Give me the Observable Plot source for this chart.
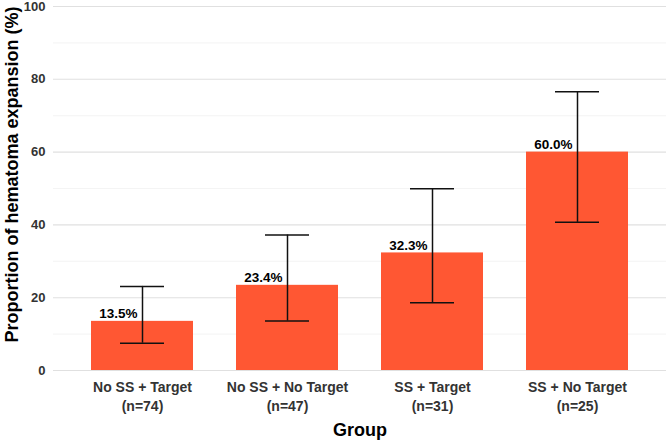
<!DOCTYPE html>
<html>
<head>
<meta charset="utf-8">
<script src="https://cdn.jsdelivr.net/npm/d3@7"></script>
<script src="https://cdn.jsdelivr.net/npm/@observablehq/plot@0.6"></script>
<style>
  html, body { margin: 0; padding: 0; background: #ffffff; }
  #chart svg { display: block; }
</style>
</head>
<body>
<div id="chart"></div>
<script>
// Hematoma expansion by group, with 95% confidence intervals
const groups = ["No SS + Target", "No SS + No Target", "SS + Target", "SS + No Target"];
const counts = [74, 47, 31, 25];
const pct = [13.5, 23.4, 32.3, 60.0];
const ciLow = [7.5, 13.6, 18.6, 40.7];
const ciHigh = [23.1, 37.2, 49.9, 76.6];
const yTicks = [0, 20, 40, 60, 80, 100];
const yMinor = [10, 30, 50, 70, 90];

const data = groups.map((g, i) => ({group: g, n: counts[i], pct: pct[i], lo: ciLow[i], hi: ciHigh[i]}));
const nByGroup = new Map(data.map(d => [d.group, d.n]));

const font = "'Liberation Sans', Arial, Helvetica, sans-serif";

const chart = Plot.plot({
  width: 667,
  height: 442,
  marginTop: 6,
  marginBottom: 72,
  marginLeft: 53,
  marginRight: 1,
  style: {fontFamily: font, background: "#ffffff"},
  x: {domain: groups, paddingInner: 0.3, paddingOuter: 0.25},
  y: {domain: [0, 100]},
  marks: [
    Plot.gridY(yMinor, {stroke: "#efefef", strokeOpacity: 1, strokeWidth: 0.7}),
    Plot.gridY(yTicks, {stroke: "#e0e0e0", strokeOpacity: 1, strokeWidth: 1.1}),
    Plot.barY(data, {x: "group", y: "pct", fill: "#FF5733"}),
    Plot.ruleX(data, {x: "group", y1: "lo", y2: "hi", stroke: "#111111", strokeWidth: 1.5}),
    Plot.tickY(data, {x: "group", y: "lo", stroke: "#111111", strokeWidth: 1.5, insetLeft: 29, insetRight: 29}),
    Plot.tickY(data, {x: "group", y: "hi", stroke: "#111111", strokeWidth: 1.5, insetLeft: 29, insetRight: 29}),
    Plot.text(data, {
      x: "group", y: "pct",
      text: d => d.pct.toFixed(1) + "%",
      textAnchor: "end", lineAnchor: "bottom", dx: -5, dy: -3,
      fontSize: 13.5, fontWeight: "bold", fill: "#000000"
    }),
    Plot.axisY({
      ticks: yTicks, tickSize: 0, tickPadding: 8, label: null,
      fontSize: 13, fontWeight: "bold", color: "#333333"
    }),
    Plot.axisX({
      tickSize: 0, tickPadding: 9, label: null,
      tickFormat: d => `${d}\n(n=${nByGroup.get(d)})`,
      fontSize: 14, fontWeight: "bold", lineHeight: 1.3, color: "#333333"
    }),
    Plot.text(["Proportion of hematoma expansion (%)"], {
      text: d => d, frameAnchor: "left", rotate: -90, dx: -41, dy: -14,
      textAnchor: "middle", lineAnchor: "middle",
      fontSize: 18, fontWeight: "bold", fill: "#000000"
    }),
    Plot.text(["Group"], {
      text: d => d, frameAnchor: "bottom", dy: 60,
      textAnchor: "middle", lineAnchor: "middle",
      fontSize: 18, fontWeight: "bold", fill: "#000000"
    })
  ]
});

document.getElementById("chart").append(chart);
</script>
</body>
</html>
